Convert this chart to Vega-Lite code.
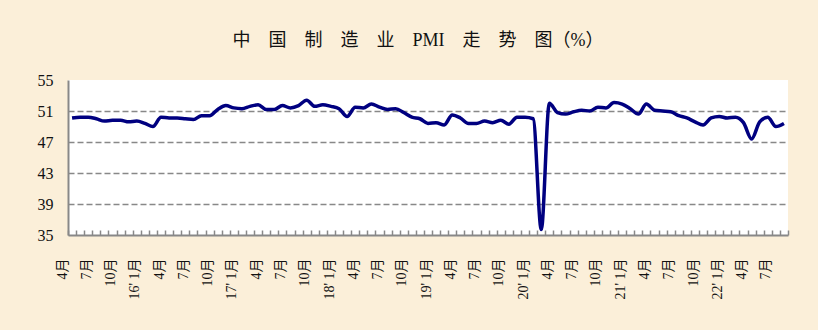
{
  "$schema": "https://vega.github.io/schema/vega-lite/v6.json",
  "autosize": "none",
  "width": 720,
  "height": 155,
  "padding": {"left": 68, "top": 80, "right": 30, "bottom": 95},
  "background": "#fbefd9",
  "title": {
    "text": "中\u2003国\u2003制\u2003造\u2003业\u2003PMI\u2003走\u2003势\u2003图（%）",
    "font": "Liberation Serif, Noto Sans CJK SC",
    "fontSize": 18,
    "fontWeight": "normal",
    "color": "#111111",
    "anchor": "middle",
    "dx": -10,
    "offset": 22
  },
  "data": {
    "values": [
      {"m": "2015-04", "v": 50.1}, {"m": "2015-05", "v": 50.2}, {"m": "2015-06", "v": 50.2},
      {"m": "2015-07", "v": 50.0}, {"m": "2015-08", "v": 49.7}, {"m": "2015-09", "v": 49.8},
      {"m": "2015-10", "v": 49.8}, {"m": "2015-11", "v": 49.6}, {"m": "2015-12", "v": 49.7},
      {"m": "2016-01", "v": 49.4}, {"m": "2016-02", "v": 49.0}, {"m": "2016-03", "v": 50.2},
      {"m": "2016-04", "v": 50.1}, {"m": "2016-05", "v": 50.1}, {"m": "2016-06", "v": 50.0},
      {"m": "2016-07", "v": 49.9}, {"m": "2016-08", "v": 50.4}, {"m": "2016-09", "v": 50.4},
      {"m": "2016-10", "v": 51.2}, {"m": "2016-11", "v": 51.7}, {"m": "2016-12", "v": 51.4},
      {"m": "2017-01", "v": 51.3}, {"m": "2017-02", "v": 51.6}, {"m": "2017-03", "v": 51.8},
      {"m": "2017-04", "v": 51.2}, {"m": "2017-05", "v": 51.2}, {"m": "2017-06", "v": 51.7},
      {"m": "2017-07", "v": 51.4}, {"m": "2017-08", "v": 51.7}, {"m": "2017-09", "v": 52.4},
      {"m": "2017-10", "v": 51.6}, {"m": "2017-11", "v": 51.8}, {"m": "2017-12", "v": 51.6},
      {"m": "2018-01", "v": 51.3}, {"m": "2018-02", "v": 50.3}, {"m": "2018-03", "v": 51.5},
      {"m": "2018-04", "v": 51.4}, {"m": "2018-05", "v": 51.9}, {"m": "2018-06", "v": 51.5},
      {"m": "2018-07", "v": 51.2}, {"m": "2018-08", "v": 51.3}, {"m": "2018-09", "v": 50.8},
      {"m": "2018-10", "v": 50.2}, {"m": "2018-11", "v": 50.0}, {"m": "2018-12", "v": 49.4},
      {"m": "2019-01", "v": 49.5}, {"m": "2019-02", "v": 49.2}, {"m": "2019-03", "v": 50.5},
      {"m": "2019-04", "v": 50.1}, {"m": "2019-05", "v": 49.4}, {"m": "2019-06", "v": 49.4},
      {"m": "2019-07", "v": 49.7}, {"m": "2019-08", "v": 49.5}, {"m": "2019-09", "v": 49.8},
      {"m": "2019-10", "v": 49.3}, {"m": "2019-11", "v": 50.2}, {"m": "2019-12", "v": 50.2},
      {"m": "2020-01", "v": 50.0}, {"m": "2020-02", "v": 35.7}, {"m": "2020-03", "v": 52.0},
      {"m": "2020-04", "v": 50.8}, {"m": "2020-05", "v": 50.6}, {"m": "2020-06", "v": 50.9},
      {"m": "2020-07", "v": 51.1}, {"m": "2020-08", "v": 51.0}, {"m": "2020-09", "v": 51.5},
      {"m": "2020-10", "v": 51.4}, {"m": "2020-11", "v": 52.1}, {"m": "2020-12", "v": 51.9},
      {"m": "2021-01", "v": 51.3}, {"m": "2021-02", "v": 50.6}, {"m": "2021-03", "v": 51.9},
      {"m": "2021-04", "v": 51.1}, {"m": "2021-05", "v": 51.0}, {"m": "2021-06", "v": 50.9},
      {"m": "2021-07", "v": 50.4}, {"m": "2021-08", "v": 50.1}, {"m": "2021-09", "v": 49.6},
      {"m": "2021-10", "v": 49.2}, {"m": "2021-11", "v": 50.1}, {"m": "2021-12", "v": 50.3},
      {"m": "2022-01", "v": 50.1}, {"m": "2022-02", "v": 50.2}, {"m": "2022-03", "v": 49.5},
      {"m": "2022-04", "v": 47.4}, {"m": "2022-05", "v": 49.6}, {"m": "2022-06", "v": 50.2},
      {"m": "2022-07", "v": 49.0}, {"m": "2022-08", "v": 49.4}
    ]
  },
  "mark": {"type": "line", "color": "#000080", "strokeWidth": 3.5, "interpolate": "monotone"},
  "encoding": {
    "x": {
      "field": "m",
      "type": "ordinal",
      "sort": null,
      "scale": {"type": "band", "paddingInner": 0, "paddingOuter": 0},
      "axis": {
        "title": null,
        "labelAngle": -90,
        "labelAlign": "right",
        "labelBaseline": "middle",
        "labelExpr": "(toNumber(substring(datum.value,5,7)) - 1) % 3 == 0 ? (substring(datum.value,5,7) == '01' ? substring(datum.value,2,4) + \"' 1月\" : toNumber(substring(datum.value,5,7)) + '月') : ''",
        "labelFont": "Liberation Serif, Noto Sans CJK SC",
        "labelFontSize": 14,
        "labelColor": "#111111",
        "labelOffset": -10,
        "labelPadding": 28,
        "labelOverlap": false,
        "tickBand": "extent",
        "tickSize": -5,
        "tickColor": "#888888",
        "tickWidth": 1.5,
        "domainColor": "#888888",
        "domainWidth": 2,
        "grid": false
      }
    },
    "y": {
      "field": "v",
      "type": "quantitative",
      "scale": {"domain": [35, 55], "nice": false, "zero": false},
      "axis": {
        "title": null,
        "values": [35, 39, 43, 47, 51, 55],
        "labelFont": "Liberation Serif",
        "labelFontSize": 16,
        "labelColor": "#111111",
        "labelPadding": 15,
        "ticks": false,
        "domainColor": "#888888",
        "domainWidth": 2,
        "grid": true,
        "gridColor": "#888888",
        "gridWidth": 1.5,
        "gridDash": [6, 3],
        "gridOpacity": {"condition": {"test": "datum.value == 55 || datum.value == 35", "value": 0}, "value": 1}
      }
    }
  },
  "config": {
    "view": {"fill": "white", "stroke": null}
  }
}
